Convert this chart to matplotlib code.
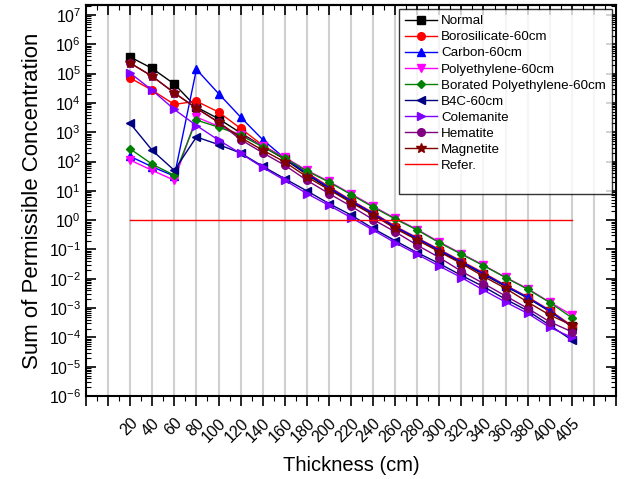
import numpy as np
import matplotlib
matplotlib.use("Agg")
import matplotlib.pyplot as plt
from matplotlib.ticker import LogLocator, FixedLocator, NullFormatter, LogFormatterMathtext

plt.rcParams['font.family'] = ['Liberation Sans', 'DejaVu Sans']
plt.rcParams['mathtext.default'] = 'regular'

# thickness labels (categorical positions 1..21)
thickness = ['20', '40', '60', '80', '100', '120', '140', '160', '180', '200', '220',
             '240', '260', '280', '300', '320', '340', '360', '380', '400', '405']

normal = [3.7e5, 1.5e5, 4.4e4, 7.2e3, 2.9e3, 9.5e2, 3.3e2, 1.2e2, 36, 12, 4.2,
          1.6, 0.56, 0.23, 0.09, 0.036, 0.014, 0.0055, 0.0022, 7.7e-4, 2.4e-4]
borosilicate = [7.1e4, 2.7e4, 8.9e3, 1.15e4, 4.9e3, 1.35e3, 3.6e2, 1.3e2, 42, 14, 4.8,
                1.8, 0.62, 0.25, 0.1, 0.04, 0.016, 0.006, 0.0024, 8.5e-4, 2.5e-4]
carbon = [150, 66, 32, 1.4e5, 2.1e4, 3.3e3, 5.6e2, 1.3e2, 39, 13, 4.6,
          1.7, 0.59, 0.24, 0.095, 0.038, 0.015, 0.0058, 0.0023, 8.1e-4, 2.3e-4]
polyethylene = [112, 50, 23, 3.3e3, 1.6e3, 8.3e2, 3.3e2, 1.4e2, 50, 21, 7.9,
                3.0, 1.15, 0.48, 0.18, 0.072, 0.029, 0.0112, 0.0046, 1.6e-3, 5.8e-4]
borated_pe = [270, 81, 34, 2.6e3, 1.5e3, 7.9e2, 3.2e2, 1.3e2, 48, 20, 7.5,
              2.8, 1.1, 0.46, 0.17, 0.069, 0.028, 0.011, 0.0044, 1.55e-3, 4.7e-4]
b4c = [2.0e3, 2.4e2, 50, 6.9e2, 3.8e2, 1.95e2, 69, 26, 10, 3.7, 1.5,
       0.52, 0.2, 0.078, 0.033, 0.013, 0.0054, 0.002, 8.1e-4, 2.6e-4, 8.1e-5]
colemanite = [1.05e5, 2.7e4, 6.0e3, 1.7e3, 5.4e2, 1.9e2, 63, 23, 8.1, 3.2, 1.23,
              0.46, 0.17, 0.068, 0.027, 0.011, 0.0041, 0.0016, 6.6e-4, 2.2e-4, 1.0e-4]
hematite = [2.3e5, 8.1e4, 2.2e4, 6.6e3, 2.2e3, 5.6e2, 2.0e2, 75, 23, 8.1, 3.0,
            1.05, 0.40, 0.14, 0.053, 0.018, 0.0069, 0.0026, 9.8e-4, 3.4e-4, 1.55e-4]
magnetite = [2.3e5, 8.1e4, 2.2e4, 6.6e3, 2.2e3, 6.6e2, 2.45e2, 97, 30, 11, 4.0,
             1.5, 0.52, 0.21, 0.083, 0.033, 0.012, 0.0047, 0.0016, 5.8e-4, 2.6e-4]
refer = [1.0] * 21

series = [
    ('Normal', normal, '#000000', 's'),
    ('Borosilicate-60cm', borosilicate, '#FF0000', 'o'),
    ('Carbon-60cm', carbon, '#0000FF', '^'),
    ('Polyethylene-60cm', polyethylene, '#FF00FF', 'v'),
    ('Borated Polyethylene-60cm', borated_pe, '#008000', 'D'),
    ('B4C-60cm', b4c, '#000080', '<'),
    ('Colemanite', colemanite, '#8000FF', '>'),
    ('Hematite', hematite, '#800080', 'o'),
    ('Magnetite', magnetite, '#800000', '*'),
]

x = np.arange(1, len(thickness) + 1)

fig = plt.figure(figsize=(6.25, 4.79), dpi=100)
ax = fig.add_axes([86 / 625, 1 - 396 / 479, (616 - 86) / 625, (396 - 5) / 479])

for xi in range(0, 23):
    ax.axvline(xi, color='#D0D0D0', lw=1.5, zorder=0)

for name, vals, col, mk in series:
    ms = 7 if mk == '*' else (4.5 if mk == 'D' else 5.5)
    ax.plot(x, vals, color=col, marker=mk, ms=ms, lw=1, label=name)
ax.plot(x, refer, color='#FF0000', lw=1, label='Refer.')
# blank row at the bottom of the legend box
ax.plot([], [], ' ', label=' ')

ax.set_yscale('log')
ax.set_ylim(1e-6, 2.2e7)
ax.set_xlim(-1, 23)

ax.yaxis.set_major_locator(LogLocator(base=10, numticks=20))
ax.yaxis.set_minor_locator(LogLocator(base=10, subs=np.arange(2, 10), numticks=200))
ax.yaxis.set_minor_formatter(NullFormatter())
ax.yaxis.set_major_formatter(LogFormatterMathtext())

ax.xaxis.set_major_locator(FixedLocator(np.arange(-1, 24)))
ax.xaxis.set_minor_locator(FixedLocator(np.arange(-0.5, 23, 1.0)))
ax.set_xticklabels([''] * 2 + thickness + [''] * 2)
plt.setp(ax.get_xticklabels(), rotation=45, ha='right', rotation_mode='anchor')

ax.tick_params(axis='x', which='both', direction='out', bottom=True, top=False,
               labelsize=11.5, pad=7)
ax.tick_params(axis='y', which='both', direction='in', left=True, right=True, labelsize=11.5)
ax.tick_params(which='major', length=7, width=1.2)
ax.tick_params(which='minor', length=3.5, width=0.8)

# top mirror ticks pointing in
top = ax.secondary_xaxis('top')
top.xaxis.set_major_locator(FixedLocator(np.arange(-1, 24)))
top.xaxis.set_minor_locator(FixedLocator(np.arange(-0.5, 23, 1.0)))
top.tick_params(which='both', direction='in', labeltop=False)
top.tick_params(which='major', length=7, width=1.2)
top.tick_params(which='minor', length=3.5, width=0.8)
top.spines['top'].set_linewidth(1.5)

for s in ax.spines.values():
    s.set_linewidth(1.5)

ax.set_xlabel('Thickness (cm)', fontsize=14.5, labelpad=8)
ax.set_ylabel('Sum of Permissible Concentration', fontsize=16, labelpad=4)

leg = ax.legend(loc='upper right', fontsize=9.6, frameon=True, fancybox=False,
                edgecolor='black', handlelength=2.4, labelspacing=0.28,
                borderaxespad=0.3, borderpad=0.45, handletextpad=0.3)
leg.get_frame().set_linewidth(1.0)
leg.set_zorder(5)

fig.savefig('out.png', dpi=100)
